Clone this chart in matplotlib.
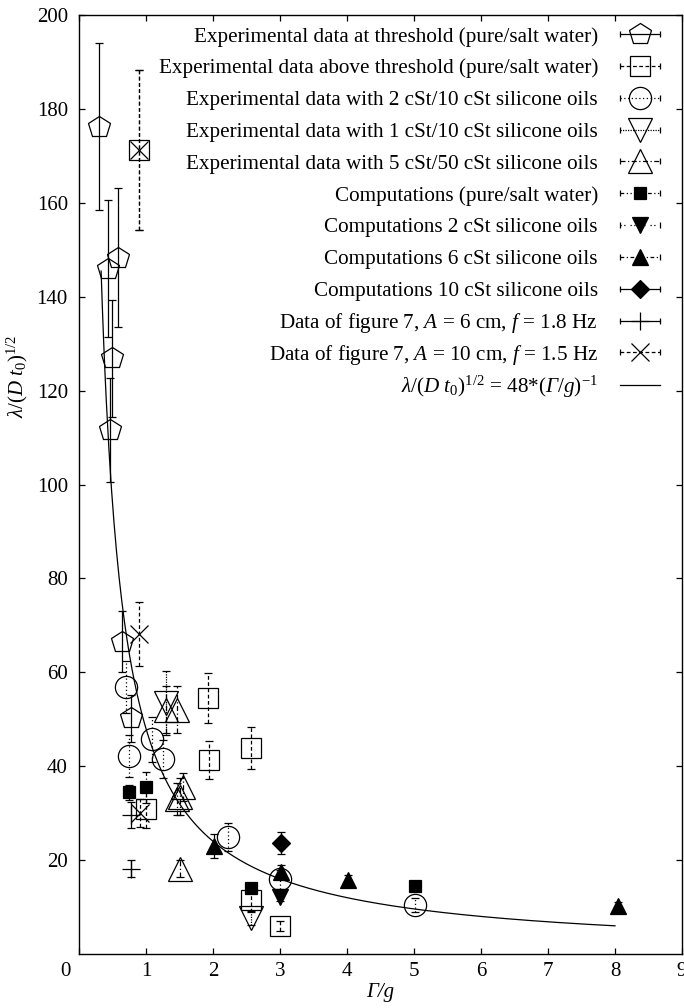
import matplotlib
matplotlib.use("Agg")
import matplotlib.pyplot as plt
from matplotlib.lines import Line2D
from matplotlib.legend import Legend
from matplotlib.legend_handler import HandlerLine2D
import numpy as np

plt.rcParams['font.family'] = ['Liberation Serif', 'DejaVu Serif']
plt.rcParams['mathtext.fontset'] = 'custom'
plt.rcParams['mathtext.rm'] = 'Liberation Serif'
plt.rcParams['mathtext.it'] = 'Liberation Serif:italic'
plt.rcParams['mathtext.bf'] = 'Liberation Serif:bold'
plt.rcParams['mathtext.cal'] = 'Liberation Serif:italic'

# ---------------- data ----------------
# Experimental data at threshold (pure/salt water)
thr_x = [0.30, 0.437, 0.577, 0.49, 0.46, 0.637, 0.776]
thr_y = [176.2, 146.0, 148.3, 126.9, 111.6, 66.5, 50.2]
thr_e = [17.8, 14.5, 14.8, 12.5, 11.0, 6.5, 5.0]

# Experimental data above threshold (pure/salt water)
abv_x = [0.90, 1.92, 1.935, 2.56, 1.00, 2.57, 3.00]
abv_y = [171.2, 54.5, 41.3, 43.9, 30.8, 11.5, 6.0]
abv_e = [17.0, 5.3, 4.1, 4.4, 4.0, 2.5, 1.0]

# Experimental data with 2 cSt/10 cSt silicone oils
c2_x = [0.70, 0.75, 1.085, 1.25, 2.23, 3.00, 5.02]
c2_y = [56.9, 42.2, 45.7, 41.5, 25.0, 15.9, 10.4]
c2_e = [5.5, 4.5, 4.8, 4.1, 3.0, 2.0, 1.5]

# Experimental data with 1 cSt/10 cSt silicone oils
c1_x = [1.30, 2.57]
c1_y = [53.5, 7.6]
c1_e = [6.8, 1.5]

# Experimental data with 5 cSt/50 cSt silicone oils
c5_x = [1.30, 1.47, 1.557, 1.50, 1.47, 1.50]
c5_y = [52.0, 52.0, 35.6, 33.5, 33.0, 18.2]
c5_e = [5.0, 5.0, 3.0, 3.9, 3.4, 1.8]

# Computations (pure/salt water)
cw_x = [0.75, 1.00, 2.57, 5.01]
cw_y = [34.4, 35.5, 14.0, 14.5]
cw_e = [1.5, 3.3, 1.0, 0.8]

# Computations 2 cSt silicone oils
cs2_x = [3.00]
cs2_y = [12.2]
cs2_e = [1.0]

# Computations 6 cSt silicone oils
cs6_x = [2.02, 3.01, 4.02, 8.05]
cs6_y = [23.0, 17.5, 15.8, 10.2]
cs6_e = [2.5, 1.5, 1.0, 0.8]

# Computations 10 cSt silicone oils
cs10_x = [3.01]
cs10_y = [23.6]
cs10_e = [2.3]

# Data of figure 7, A = 6 cm, f = 1.8 Hz
f7a_x = [0.78, 0.776]
f7a_y = [18.2, 29.6]
f7a_e = [1.8, 2.8]

# Data of figure 7, A = 10 cm, f = 1.5 Hz
f7b_x = [0.90, 0.90, 0.91]
f7b_y = [171.2, 68.2, 30.0]
f7b_e = [17.0, 6.8, 3.0]

# fit curve lambda/(D t0)^1/2 = 48 (Gamma/g)^-1
fit_coef = 48.0
fit_xmin, fit_xmax = 0.33, 8.0

labels = [
    "Experimental data at threshold (pure/salt water)",
    "Experimental data above threshold (pure/salt water)",
    "Experimental data with 2 cSt/10 cSt silicone oils",
    "Experimental data with 1 cSt/10 cSt silicone oils",
    "Experimental data with 5 cSt/50 cSt silicone oils",
    "Computations (pure/salt water)",
    "Computations 2 cSt silicone oils",
    "Computations 6 cSt silicone oils",
    "Computations 10 cSt silicone oils",
    r"Data of figure 7, $A$ = 6 cm, $f$ = 1.8 Hz",
    r"Data of figure 7, $A$ = 10 cm, $f$ = 1.5 Hz",
    r"$\lambda/(D\ t_0)^{1/2}$ = 48*($\mathcal{\Gamma}/g$)$^{-1}$",
]

# ---------------- styles ----------------
series = [
    (thr_x, thr_y, thr_e, dict(marker='p', ms=16.5, mfc='none'), '-'),
    (abv_x, abv_y, abv_e, dict(marker='s', ms=14, mfc='none'), (0, (3, 2))),
    (c2_x, c2_y, c2_e, dict(marker='o', ms=16, mfc='none'), (0, (1, 2))),
    (c1_x, c1_y, c1_e, dict(marker='v', ms=17, mfc='none'), (0, (1, 1))),
    (c5_x, c5_y, c5_e, dict(marker='^', ms=17, mfc='none'), (0, (4, 2, 1, 2))),
    (cw_x, cw_y, cw_e, dict(marker='s', ms=9, mfc='k'), (0, (3, 2, 1, 2, 1, 2))),
    (cs2_x, cs2_y, cs2_e, dict(marker='v', ms=11, mfc='k'), (0, (1, 2, 1, 4))),
    (cs6_x, cs6_y, cs6_e, dict(marker='^', ms=11, mfc='k'), (0, (3, 2, 1, 2))),
    (cs10_x, cs10_y, cs10_e, dict(marker='D', ms=9, mfc='k'), '-'),
    (f7a_x, f7a_y, f7a_e, dict(marker='+', ms=13, mfc='k'), '-'),
    (f7b_x, f7b_y, f7b_e, dict(marker='x', ms=13, mfc='k'), (0, (3, 2))),
]

fig = plt.figure(figsize=(6.84, 10.08), dpi=100)
ax = fig.add_axes([79/684, 1 - 954/1008, 603/684, 939/1008])

handles = []
hmap = {}
for xs, ys, es, mk, ls in series:
    eb = ax.errorbar(xs, ys, yerr=es, fmt='none', ecolor='k', elinewidth=0.9,
                     capsize=2.6, capthick=0.9, zorder=2)
    for lc in eb[2]:
        lc.set_linestyle(ls)
    ax.plot(xs, ys, ls='none', color='k', mec='k', mew=0.9, zorder=3, **mk)
    cap = Line2D([], [], color='k', lw=0.9, ls=ls, marker='|', ms=5, mew=0.9)
    mline = Line2D([], [], color='k', ls='none', mec='k', mew=0.9, **mk)
    hmap[cap] = HandlerLine2D(numpoints=2, marker_pad=0)
    handles.append((cap, mline))

fx = np.linspace(fit_xmin, fit_xmax, 400)
fline, = ax.plot(fx, fit_coef / fx, color='k', lw=0.9, zorder=1)
handles.append(fline)

ax.set_xlim(0, 9)
ax.set_ylim(0, 200)
ax.set_xticks(range(0, 10))
ax.set_xticklabels([''] + [str(i) for i in range(1, 10)])
ax.set_yticks(range(20, 201, 20))
ax.tick_params(direction='in', top=True, right=True, length=4, width=0.9,
               labelsize=15, pad=6)
ax.tick_params(axis='y', pad=8)
for s in ax.spines.values():
    s.set_linewidth(1.0)
ax.annotate('0', xy=(0, 0), xycoords=('data', 'axes fraction'),
            xytext=(-9.5, -6), textcoords='offset points', ha='center', va='top',
            fontsize=15)

ax.set_xlabel('Γ/g', fontsize=15, fontstyle='italic', labelpad=1)
ax.set_ylabel(r'$\lambda/(D\ t_0)^{1/2}$', fontsize=15)
ax.yaxis.set_label_coords(-0.082, 0.615)

# legend: one row per entry, evenly spaced like the reference
row0_px, row_gap_px = 36.7, 31.8
ax_top_px, ax_h_px = 15.0, 939.0
for i, (h, l) in enumerate(zip(handles, labels)):
    yfrac = 1 - (row0_px + i * row_gap_px - ax_top_px) / ax_h_px
    leg = Legend(ax, [h], [l], handler_map=hmap, loc='center right',
                 bbox_to_anchor=(0.9635, yfrac), frameon=False, markerfirst=False,
                 fontsize=15.2, handlelength=1.9, handletextpad=1.04,
                 borderaxespad=0, borderpad=0, numpoints=1)
    ax.add_artist(leg)

fig.savefig('out.png', dpi=100)
